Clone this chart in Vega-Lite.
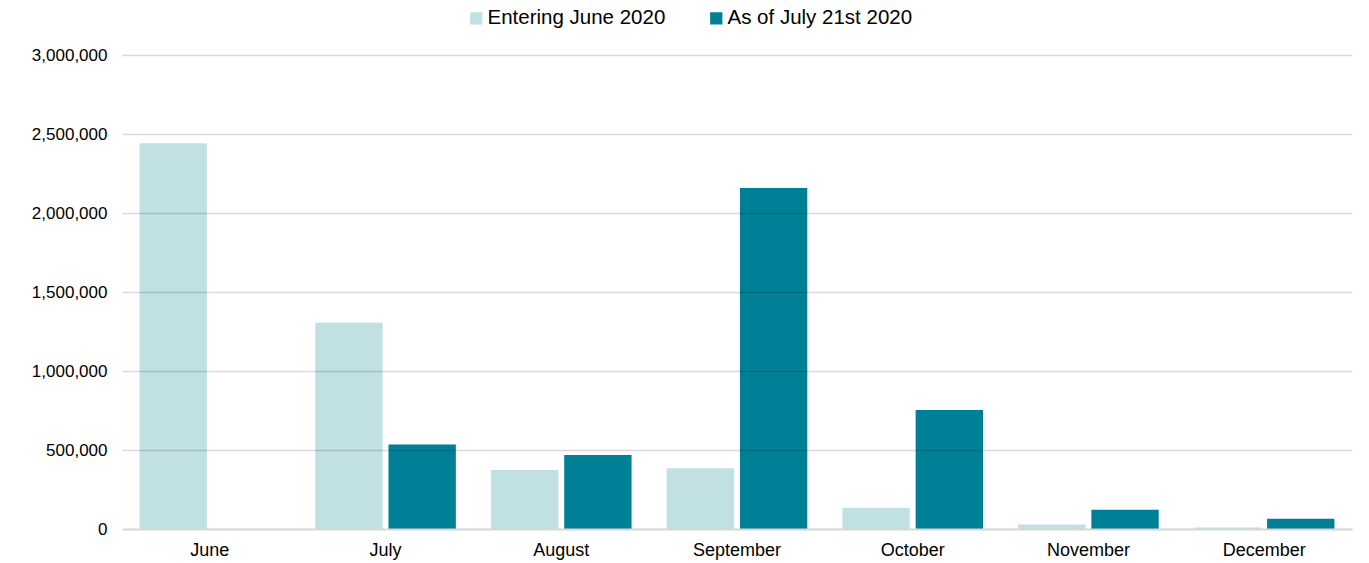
{
  "$schema": "https://vega.github.io/schema/vega-lite/v6.json",
  "width": 1230,
  "height": 474,
  "autosize": {"type": "none"},
  "padding": {"left": 122, "top": 55, "right": 17, "bottom": 34},
  "background": "white",
  "config": {
    "view": {"stroke": null},
    "font": "Liberation Sans",
    "axis": {"labelFont": "Liberation Sans", "labelColor": "#000000"},
    "legend": {"labelFont": "Liberation Sans"}
  },
  "data": {
    "values": [
      {"month": "June", "series": "Entering June 2020", "value": 2441000},
      {"month": "June", "series": "As of July 21st 2020", "value": 0},
      {"month": "July", "series": "Entering June 2020", "value": 1306000},
      {"month": "July", "series": "As of July 21st 2020", "value": 535000},
      {"month": "August", "series": "Entering June 2020", "value": 374000},
      {"month": "August", "series": "As of July 21st 2020", "value": 468000},
      {"month": "September", "series": "Entering June 2020", "value": 384000},
      {"month": "September", "series": "As of July 21st 2020", "value": 2158000},
      {"month": "October", "series": "Entering June 2020", "value": 134000},
      {"month": "October", "series": "As of July 21st 2020", "value": 753000},
      {"month": "November", "series": "Entering June 2020", "value": 29000},
      {"month": "November", "series": "As of July 21st 2020", "value": 122000},
      {"month": "December", "series": "Entering June 2020", "value": 9000},
      {"month": "December", "series": "As of July 21st 2020", "value": 65000}
    ]
  },
  "mark": {"type": "bar"},
  "encoding": {
    "x": {
      "field": "month",
      "type": "nominal",
      "sort": ["June", "July", "August", "September", "October", "November", "December"],
      "scale": {"paddingInner": 0.2, "paddingOuter": 0.1},
      "axis": {
        "title": null,
        "labelAngle": 0,
        "labelFontSize": 18,
        "labelPadding": 12,
        "ticks": false,
        "domain": true,
        "domainColor": "#d9d9d9",
        "domainWidth": 2,
        "zindex": 1
      }
    },
    "xOffset": {
      "field": "series",
      "type": "nominal",
      "sort": ["Entering June 2020", "As of July 21st 2020"],
      "scale": {"paddingInner": 0.08, "paddingOuter": 0}
    },
    "y": {
      "field": "value",
      "type": "quantitative",
      "scale": {"domain": [0, 3000000], "nice": false},
      "axis": {
        "title": null,
        "values": [0, 500000, 1000000, 1500000, 2000000, 2500000, 3000000],
        "format": ",d",
        "labelFontSize": 17,
        "labelPadding": 15,
        "ticks": false,
        "domain": false,
        "grid": true,
        "gridColor": "#000000",
        "gridOpacity": 0.15,
        "gridWidth": 1.5,
        "zindex": 1
      }
    },
    "color": {
      "field": "series",
      "type": "nominal",
      "sort": ["Entering June 2020", "As of July 21st 2020"],
      "scale": {
        "domain": ["Entering June 2020", "As of July 21st 2020"],
        "range": ["#C1E0E4", "#008096"]
      },
      "legend": {
        "title": null,
        "orient": "none",
        "direction": "horizontal",
        "legendX": 344,
        "legendY": -47,
        "symbolType": "square",
        "symbolSize": 150,
        "symbolStrokeWidth": 0,
        "labelFontSize": 20.5,
        "labelLimit": 0,
        "labelColor": "#000000",
        "labelOffset": 1,
        "columnPadding": 40
      }
    }
  }
}
